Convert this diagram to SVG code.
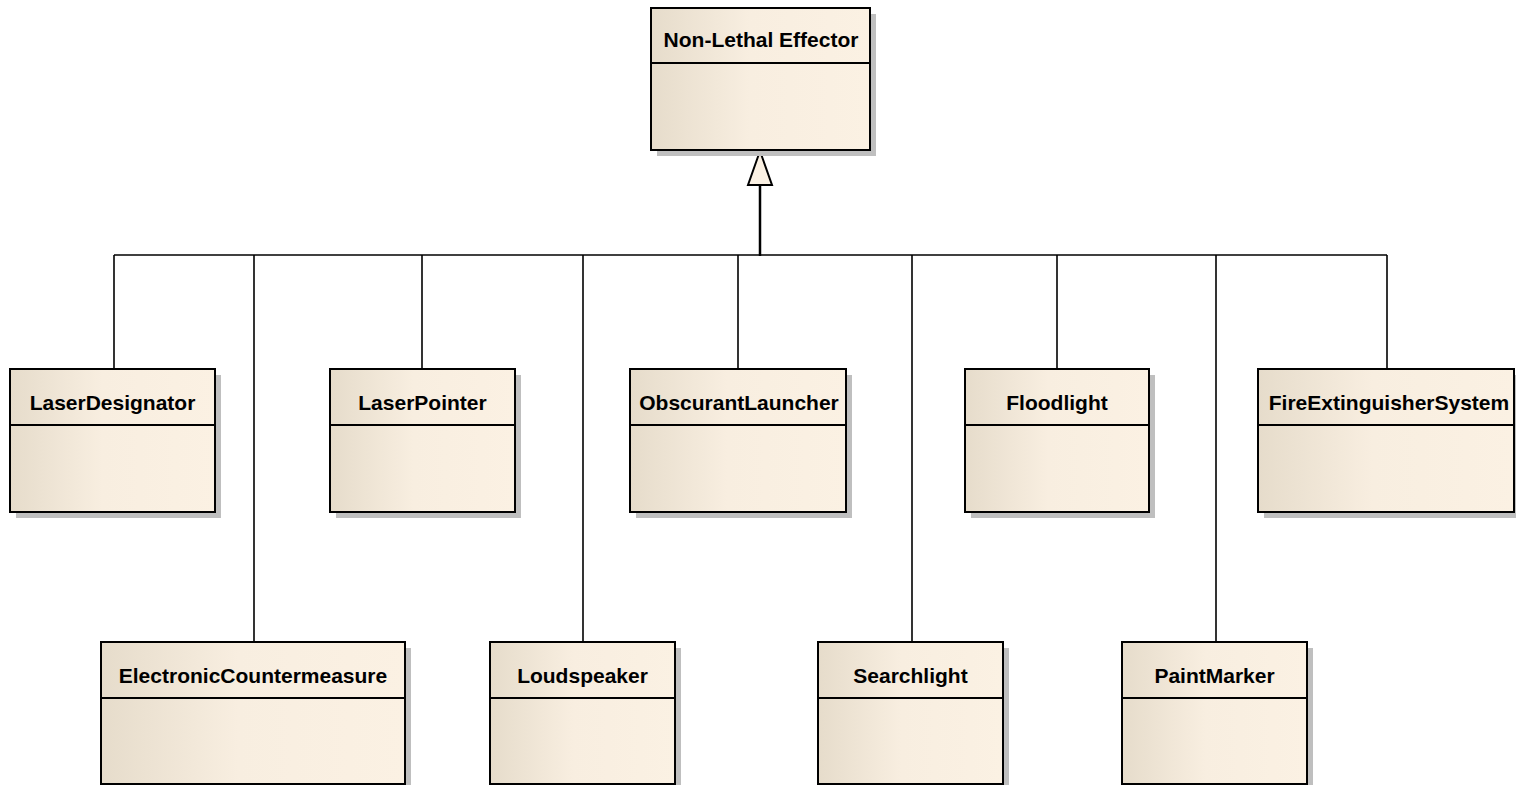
<svg xmlns="http://www.w3.org/2000/svg" width="1516" height="785" viewBox="0 0 1516 785">
  <defs>
    <linearGradient id="classFill" x1="0" y1="0" x2="1" y2="0">
      <stop offset="0" stop-color="#e6dccb"/>
      <stop offset="0.45" stop-color="#f8eee0"/>
      <stop offset="1" stop-color="#fbf1e3"/>
    </linearGradient>
  </defs>
  <style>
    .shadow { fill: #bfbfbf; }
    .box { fill: url(#classFill); stroke: #000; stroke-width: 2; }
    .sep { stroke: #000; stroke-width: 2; }
    .name { font-family: "Liberation Sans", Arial, sans-serif; font-weight: bold; font-size: 21px; fill: #000; text-anchor: middle; }
    .link { stroke: #000; stroke-width: 1.6; fill: none; }
    .trunk { stroke: #000; stroke-width: 2.5; fill: none; }
    .head { fill: #fbf1e3; stroke: #000; stroke-width: 2; stroke-linejoin: miter; }
  </style>
  <rect width="1516" height="785" fill="#ffffff"/>

  <!-- generalization connectors -->
  <g id="connectors">
    <path class="link" d="M114 255 H1387"/>
    <path class="link" d="M114 255 V369"/>
    <path class="link" d="M254 255 V642"/>
    <path class="link" d="M422 255 V369"/>
    <path class="link" d="M583 255 V642"/>
    <path class="link" d="M738 255 V369"/>
    <path class="link" d="M912 255 V642"/>
    <path class="link" d="M1057 255 V369"/>
    <path class="link" d="M1216 255 V642"/>
    <path class="link" d="M1387 255 V369"/>
    <path class="trunk" d="M760 185 V256"/>
    <polygon class="head" points="760,151 748,185 772,185"/>
  </g>

  <g id="node-non-lethal-effector">
    <rect class="shadow" x="657" y="14" width="219" height="142"/>
    <rect class="box" x="651" y="8" width="219" height="142"/>
    <line class="sep" x1="651" y1="63" x2="870" y2="63"/>
    <text class="name" x="761" y="47">Non-Lethal Effector</text>
  </g>

  <g id="node-laser-designator">
    <rect class="shadow" x="16" y="375" width="205" height="143"/>
    <rect class="box" x="10" y="369" width="205" height="143"/>
    <line class="sep" x1="10" y1="425" x2="215" y2="425"/>
    <text class="name" x="112.5" y="410">LaserDesignator</text>
  </g>

  <g id="node-laser-pointer">
    <rect class="shadow" x="336" y="375" width="185" height="143"/>
    <rect class="box" x="330" y="369" width="185" height="143"/>
    <line class="sep" x1="330" y1="425" x2="515" y2="425"/>
    <text class="name" x="422.5" y="410">LaserPointer</text>
  </g>

  <g id="node-obscurant-launcher">
    <rect class="shadow" x="636" y="375" width="216" height="143"/>
    <rect class="box" x="630" y="369" width="216" height="143"/>
    <line class="sep" x1="630" y1="425" x2="846" y2="425"/>
    <text class="name" x="739" y="410">ObscurantLauncher</text>
  </g>

  <g id="node-floodlight">
    <rect class="shadow" x="971" y="375" width="184" height="143"/>
    <rect class="box" x="965" y="369" width="184" height="143"/>
    <line class="sep" x1="965" y1="425" x2="1149" y2="425"/>
    <text class="name" x="1057" y="410">Floodlight</text>
  </g>

  <g id="node-fire-extinguisher-system">
    <rect class="shadow" x="1264" y="375" width="256" height="143"/>
    <rect class="box" x="1258" y="369" width="256" height="143"/>
    <line class="sep" x1="1258" y1="425" x2="1514" y2="425"/>
    <text class="name" x="1389" y="410">FireExtinguisherSystem</text>
  </g>

  <g id="node-electronic-countermeasure">
    <rect class="shadow" x="107" y="648" width="304" height="143"/>
    <rect class="box" x="101" y="642" width="304" height="142"/>
    <line class="sep" x1="101" y1="698" x2="405" y2="698"/>
    <text class="name" x="253" y="683">ElectronicCountermeasure</text>
  </g>

  <g id="node-loudspeaker">
    <rect class="shadow" x="496" y="648" width="185" height="143"/>
    <rect class="box" x="490" y="642" width="185" height="142"/>
    <line class="sep" x1="490" y1="698" x2="675" y2="698"/>
    <text class="name" x="582.5" y="683">Loudspeaker</text>
  </g>

  <g id="node-searchlight">
    <rect class="shadow" x="824" y="648" width="185" height="143"/>
    <rect class="box" x="818" y="642" width="185" height="142"/>
    <line class="sep" x1="818" y1="698" x2="1003" y2="698"/>
    <text class="name" x="910.5" y="683">Searchlight</text>
  </g>

  <g id="node-paint-marker">
    <rect class="shadow" x="1128" y="648" width="185" height="143"/>
    <rect class="box" x="1122" y="642" width="185" height="142"/>
    <line class="sep" x1="1122" y1="698" x2="1307" y2="698"/>
    <text class="name" x="1214.5" y="683">PaintMarker</text>
  </g>
</svg>
